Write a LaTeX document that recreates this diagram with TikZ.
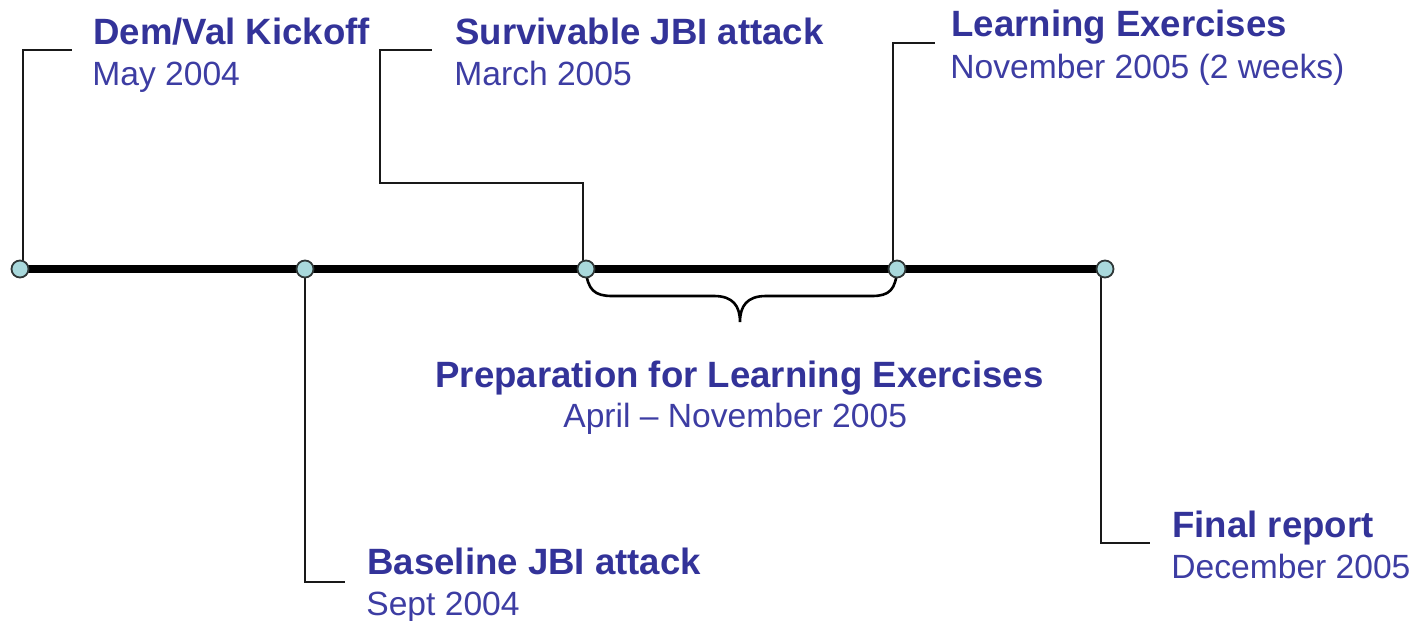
\documentclass[tikz,border=0pt]{standalone}
\usepackage{fontspec}
\setmainfont{Liberation Sans}
\definecolor{labelblue}{HTML}{333399}
\definecolor{datelabel}{HTML}{3D3DA3}
\definecolor{dotfill}{HTML}{A9D9DC}
\definecolor{dotline}{HTML}{303838}
\tikzset{
  conn/.style={line width=1.1pt, draw=black!90},
  axis/.style={line width=3.9pt, draw=black},
  milestone/.style={circle, draw=dotline, line width=0.9pt, fill=dotfill, minimum size=8.5pt, inner sep=0pt},
  title/.style={anchor=base west, inner sep=0pt, text=labelblue, font=\fontsize{18.3pt}{20pt}\selectfont\bfseries},
  date/.style={anchor=base west, inner sep=0pt, text=datelabel, font=\fontsize{16.8pt}{18pt}\selectfont},
  bracket/.style={line width=1.3pt, draw=black}
}
\begin{document}
\begin{tikzpicture}[x=0.5pt,y=-0.5pt]
  \useasboundingbox (0,0) rectangle (1420,621);

  % milestones on the axis
  \coordinate (p1) at (20,269);
  \coordinate (p2) at (305,269);
  \coordinate (p3) at (586,269);
  \coordinate (p4) at (897,269);
  \coordinate (p5) at (1105,269);

  % label texts
  \node[title] (t1) at (93,44) {Dem/Val Kickoff};
  \node[date]  (s1) at (92,85) {May 2004};
  \node[title] (t3) at (455,44) {Survivable JBI attack};
  \node[date]  (s3) at (454,85) {March 2005};
  \node[title] (t4) at (951,36) {Learning Exercises};
  \node[date]  (s4) at (950,78) {November 2005 (2 weeks)};
  \node[title] (t2) at (367,574) {Baseline JBI attack};
  \node[date]  (s2) at (366,615) {Sept 2004};
  \node[title] (t5) at (1172,537) {Final report};
  \node[date]  (s5) at (1171,578) {December 2005};
  \node[title] (tp) at (435,387) {Preparation for Learning Exercises};
  \node[date]  (sp) at (563,427) {April -- November 2005};

  % leader line ends
  \coordinate (e1) at (72,50);
  \coordinate (e3a) at (583,183);
  \coordinate (e3b) at (380,183);
  \coordinate (e3) at (432,50);
  \coordinate (e4) at (935,43);
  \coordinate (e2) at (345,582);
  \coordinate (e5) at (1150,543);

  % leader lines
  \draw[conn] ([xshift=1.5pt]p1) |- (e1);
  \draw[conn] ([xshift=-1.5pt]p3) -- (e3a) -- (e3b) |- (e3);
  \draw[conn] ([xshift=-2pt]p4) |- (e4);
  \draw[conn] (p2) |- (e2);
  \draw[conn] ([xshift=-2pt]p5) |- (e5);

  % brace under the preparation period
  \coordinate (tip) at (740,322);
  \draw[bracket] (p3) .. controls (587,290) and (595,296) .. (612,296)
    -- (714,296) .. controls (733,296) and (740,306) .. (tip)
    .. controls (740,306) and (747,296) .. (766,296)
    -- (872,296) .. controls (889,296) and (896,290) .. (p4);

  % time axis
  \draw[axis] (p1) -- (p5);

  % milestone markers
  \node[milestone] (d1) at (p1) {};
  \node[milestone] (d2) at (p2) {};
  \node[milestone] (d3) at (p3) {};
  \node[milestone] (d4) at (p4) {};
  \node[milestone] (d5) at (p5) {};
\end{tikzpicture}
\end{document}
